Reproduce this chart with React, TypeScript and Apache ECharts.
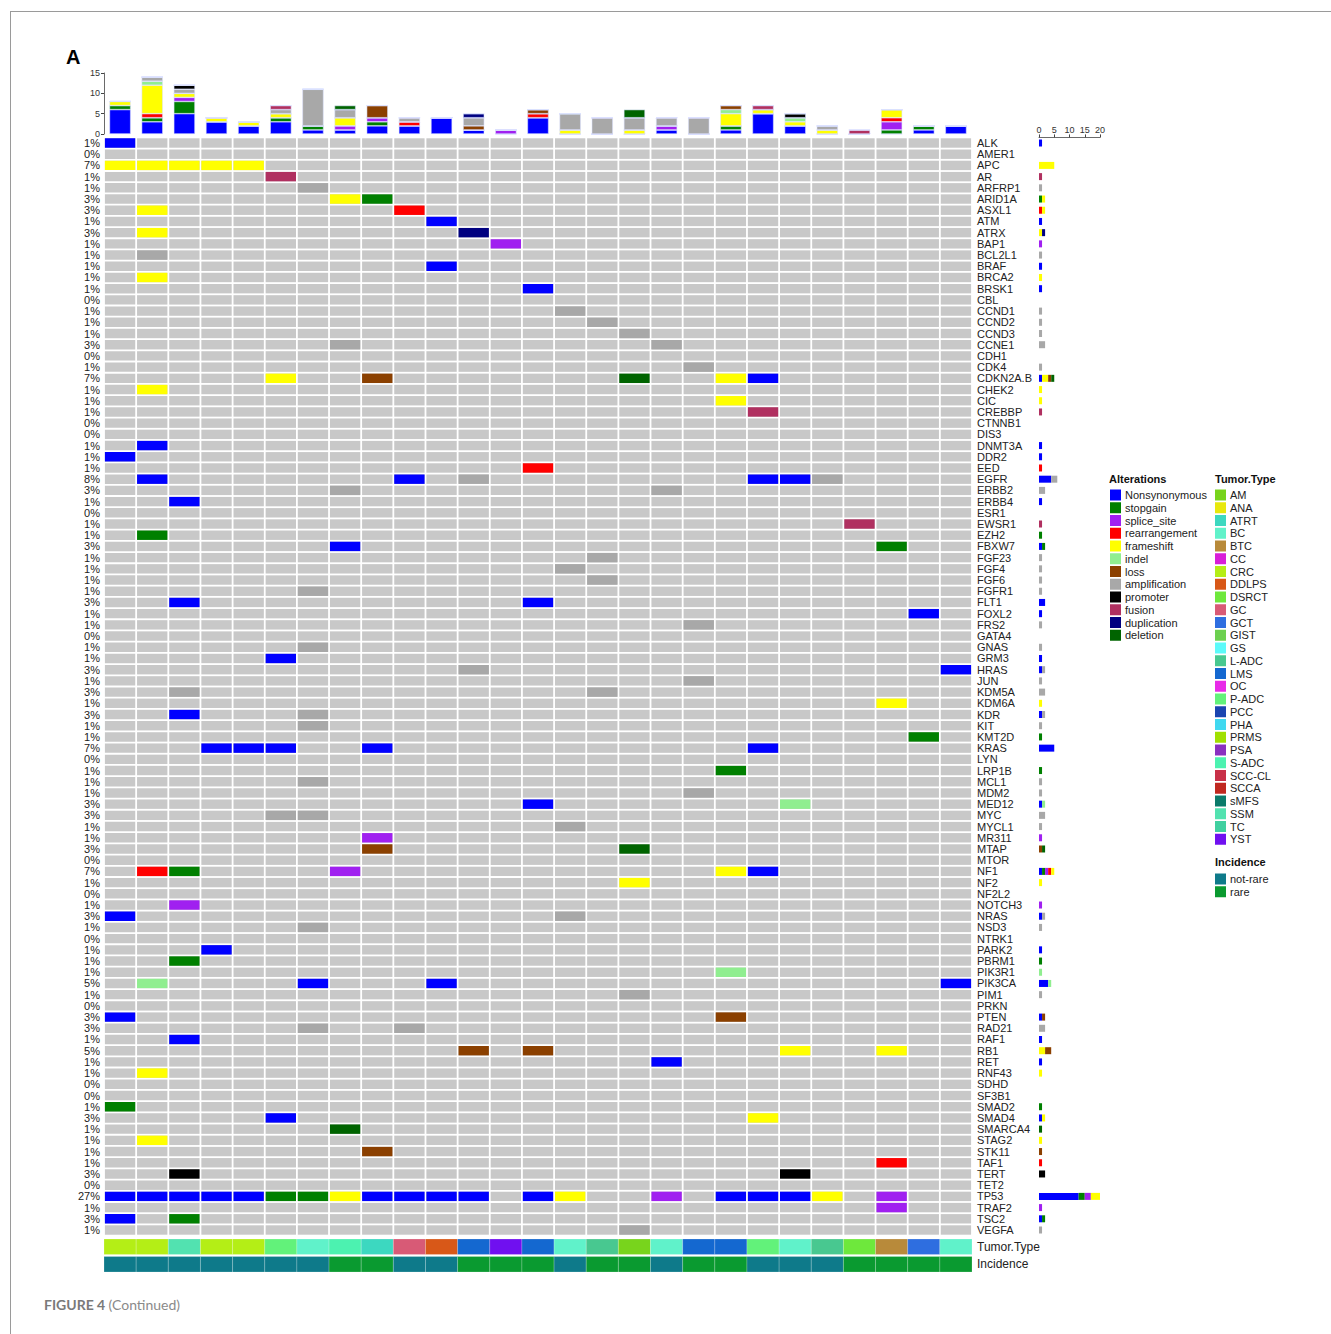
import React, { useEffect, useRef } from "react";
import * as echarts from "echarts";

const genes = ["ALK","AMER1","APC","AR","ARFRP1","ARID1A","ASXL1","ATM","ATRX","BAP1","BCL2L1","BRAF","BRCA2","BRSK1","CBL","CCND1","CCND2","CCND3","CCNE1","CDH1","CDK4","CDKN2A.B","CHEK2","CIC","CREBBP","CTNNB1","DIS3","DNMT3A","DDR2","EED","EGFR","ERBB2","ERBB4","ESR1","EWSR1","EZH2","FBXW7","FGF23","FGF4","FGF6","FGFR1","FLT1","FOXL2","FRS2","GATA4","GNAS","GRM3","HRAS","JUN","KDM5A","KDM6A","KDR","KIT","KMT2D","KRAS","LYN","LRP1B","MCL1","MDM2","MED12","MYC","MYCL1","MR311","MTAP","MTOR","NF1","NF2","NF2L2","NOTCH3","NRAS","NSD3","NTRK1","PARK2","PBRM1","PIK3R1","PIK3CA","PIM1","PRKN","PTEN","RAD21","RAF1","RB1","RET","RNF43","SDHD","SF3B1","SMAD2","SMAD4","SMARCA4","STAG2","STK11","TAF1","TERT","TET2","TP53","TRAF2","TSC2","VEGFA"];

const pct = [1,0,7,1,1,3,3,1,3,1,1,1,1,1,0,1,1,1,3,0,1,7,1,1,1,0,0,1,1,1,8,3,1,0,1,1,3,1,1,1,1,3,1,1,0,1,1,3,1,3,1,3,1,1,7,0,1,1,1,3,3,1,1,3,0,7,1,0,1,3,1,0,1,1,1,5,1,0,3,3,1,5,1,1,0,0,1,3,1,1,1,1,3,0,27,1,3,1];

const samples = Array.from({ length: 27 }, (_, i) => "S" + (i + 1));

const altCodes = ["N","S","SP","R","F","I","L","A","P","FU","DU","D"];
const altNames = ["Nonsynonymous","stopgain","splice_site","rearrangement","frameshift","indel","loss","amplification","promoter","fusion","duplication","deletion"];
const altColors = ["#0000FF","#008000","#A020F0","#FF0000","#FFFF00","#90EE90","#8B4000","#A8A8A8","#000000","#B03060","#000080","#006400"];

// [gene, sample column (1-based), alteration code]
const alterations: [string, number, string][] = [
  ["ALK",1,"N"],
  ["APC",1,"F"],["APC",2,"F"],["APC",3,"F"],["APC",4,"F"],["APC",5,"F"],
  ["AR",6,"FU"],
  ["ARFRP1",7,"A"],
  ["ARID1A",8,"F"],["ARID1A",9,"S"],
  ["ASXL1",2,"F"],["ASXL1",10,"R"],
  ["ATM",11,"N"],
  ["ATRX",2,"F"],["ATRX",12,"DU"],
  ["BAP1",13,"SP"],
  ["BCL2L1",2,"A"],
  ["BRAF",11,"N"],
  ["BRCA2",2,"F"],
  ["BRSK1",14,"N"],
  ["CCND1",15,"A"],
  ["CCND2",16,"A"],
  ["CCND3",17,"A"],
  ["CCNE1",8,"A"],["CCNE1",18,"A"],
  ["CDK4",19,"A"],
  ["CDKN2A.B",6,"F"],["CDKN2A.B",9,"L"],["CDKN2A.B",17,"D"],["CDKN2A.B",20,"F"],["CDKN2A.B",21,"N"],
  ["CHEK2",2,"F"],
  ["CIC",20,"F"],
  ["CREBBP",21,"FU"],
  ["DNMT3A",2,"N"],
  ["DDR2",1,"N"],
  ["EED",14,"R"],
  ["EGFR",2,"N"],["EGFR",10,"N"],["EGFR",12,"A"],["EGFR",21,"N"],["EGFR",22,"N"],["EGFR",23,"A"],
  ["ERBB2",8,"A"],["ERBB2",18,"A"],
  ["ERBB4",3,"N"],
  ["EWSR1",24,"FU"],
  ["EZH2",2,"S"],
  ["FBXW7",8,"N"],["FBXW7",25,"S"],
  ["FGF23",16,"A"],
  ["FGF4",15,"A"],
  ["FGF6",16,"A"],
  ["FGFR1",7,"A"],
  ["FLT1",3,"N"],["FLT1",14,"N"],
  ["FOXL2",26,"N"],
  ["FRS2",19,"A"],
  ["GNAS",7,"A"],
  ["GRM3",6,"N"],
  ["HRAS",12,"A"],["HRAS",27,"N"],
  ["JUN",19,"A"],
  ["KDM5A",3,"A"],["KDM5A",16,"A"],
  ["KDM6A",25,"F"],
  ["KDR",3,"N"],["KDR",7,"A"],
  ["KIT",7,"A"],
  ["KMT2D",26,"S"],
  ["KRAS",4,"N"],["KRAS",5,"N"],["KRAS",6,"N"],["KRAS",9,"N"],["KRAS",21,"N"],
  ["LRP1B",20,"S"],
  ["MCL1",7,"A"],
  ["MDM2",19,"A"],
  ["MED12",14,"N"],["MED12",22,"I"],
  ["MYC",6,"A"],["MYC",7,"A"],
  ["MYCL1",15,"A"],
  ["MR311",9,"SP"],
  ["MTAP",9,"L"],["MTAP",17,"D"],
  ["NF1",2,"R"],["NF1",3,"S"],["NF1",8,"SP"],["NF1",20,"F"],["NF1",21,"N"],
  ["NF2",17,"F"],
  ["NOTCH3",3,"SP"],
  ["NRAS",1,"N"],["NRAS",15,"A"],
  ["NSD3",7,"A"],
  ["PARK2",4,"N"],
  ["PBRM1",3,"S"],
  ["PIK3R1",20,"I"],
  ["PIK3CA",2,"I"],["PIK3CA",7,"N"],["PIK3CA",11,"N"],["PIK3CA",27,"N"],
  ["PIM1",17,"A"],
  ["PTEN",1,"N"],["PTEN",20,"L"],
  ["RAD21",7,"A"],["RAD21",10,"A"],
  ["RAF1",3,"N"],
  ["RB1",12,"L"],["RB1",14,"L"],["RB1",22,"F"],["RB1",25,"F"],
  ["RET",18,"N"],
  ["RNF43",2,"F"],
  ["SMAD2",1,"S"],
  ["SMAD4",6,"N"],["SMAD4",21,"F"],
  ["SMARCA4",8,"D"],
  ["STAG2",2,"F"],
  ["STK11",9,"L"],
  ["TAF1",25,"R"],
  ["TERT",3,"P"],["TERT",22,"P"],
  ["TP53",1,"N"],["TP53",2,"N"],["TP53",3,"N"],["TP53",4,"N"],["TP53",5,"N"],["TP53",6,"S"],["TP53",7,"S"],["TP53",8,"F"],
  ["TP53",9,"N"],["TP53",10,"N"],["TP53",11,"N"],["TP53",12,"N"],["TP53",14,"N"],["TP53",15,"F"],["TP53",18,"SP"],
  ["TP53",20,"N"],["TP53",21,"N"],["TP53",22,"N"],["TP53",23,"F"],["TP53",25,"SP"],
  ["TRAF2",25,"SP"],
  ["TSC2",1,"N"],["TSC2",3,"S"],
  ["VEGFA",17,"A"],
];

const tumorTypes = ["AM","ANA","ATRT","BC","BTC","CC","CRC","DDLPS","DSRCT","GC","GCT","GIST","GS","L-ADC","LMS","OC","P-ADC","PCC","PHA","PRMS","PSA","S-ADC","SCC-CL","SCCA","sMFS","SSM","TC","YST"];
const tumorColors = ["#78D41C","#E8E80C","#3CD8C0","#60F2CA","#B88A3A","#D81ED8","#B4EE16","#D85818","#6EE83C","#D85A76","#2E6EE0","#6CD050","#5CFAFA","#48C890","#1468D0","#E82AE8","#62F27A","#1A44B0","#40D8F0","#A0E000","#8A30C0","#4CF2B0","#C83048","#C02820","#0A7A6A","#52E2B0","#40D0A0","#7010F0"];
const sampleTumor = ["CRC","CRC","SSM","CRC","CRC","P-ADC","BC","S-ADC","ATRT","GC","DDLPS","LMS","YST","LMS","BC","L-ADC","AM","BC","LMS","LMS","P-ADC","BC","L-ADC","DSRCT","BTC","GCT","BC"];

const incidenceNames = ["not-rare","rare"];
const incidenceColors = ["#0E7A8A","#0A9A30"];
const sampleIncidence = ["not-rare","not-rare","not-rare","not-rare","not-rare","not-rare","not-rare","rare","rare","not-rare","not-rare","rare","rare","rare","not-rare","rare","rare","not-rare","rare","rare","not-rare","not-rare","not-rare","rare","rare","rare","rare"];

const topTicks = [0, 5, 10, 15];
const sideTicks = [0, 5, 10, 15, 20];

const FONT = "'Liberation Sans', Arial, sans-serif";

export default function App() {
  const ref = useRef<HTMLDivElement>(null);
  useEffect(() => {
    document.body.style.margin = "0";
    const chart = echarts.init(ref.current!, null, { renderer: "svg" });

    const cellData = alterations.map(([g, c, t]) => [c - 1, genes.indexOf(g), altCodes.indexOf(t)]);
    const bgData: number[][] = [];
    for (let r = 0; r < genes.length; r++) for (let c = 0; c < samples.length; c++) bgData.push([c, r]);

    const topCounts = altCodes.map(() => samples.map(() => 0));
    const sideCounts = altCodes.map(() => genes.map(() => 0));
    cellData.forEach(([c, r, t]) => { topCounts[t][c] += 1; sideCounts[t][r] += 1; });

    const annData: number[][] = [];
    samples.forEach((_, i) => {
      annData.push([i, 0, tumorTypes.indexOf(sampleTumor[i])]);
      annData.push([i, 1, incidenceNames.indexOf(sampleIncidence[i])]);
    });

    const cellRender = (colorOf: (v: number) => string, bg: boolean) => (params: any, api: any) => {
      const p = api.coord([api.value(0), api.value(1)]);
      const s = api.size([1, 1]);
      const gx = 0.9, gy = 0.9;
      return {
        type: "rect",
        shape: { x: p[0] - s[0] / 2 + gx, y: p[1] - s[1] / 2 + gy, width: s[0] - 2 * gx, height: s[1] - 2 * gy },
        style: { fill: bg ? "#C8C8C8" : colorOf(api.value(2)) },
      };
    };

    const annRender = (params: any, api: any) => {
      const row = api.value(1);
      const p = api.coord([api.value(0), row]);
      const s = api.size([1, 1]);
      const fill = row === 0 ? tumorColors[api.value(2)] : incidenceColors[api.value(2)];
      return {
        type: "rect",
        shape: { x: p[0] - s[0] / 2, y: p[1] - s[1] / 2 + 1, width: s[0], height: s[1] - 2 },
        style: { fill, stroke: "rgba(255,255,255,0.25)", lineWidth: 0.8 },
      };
    };

    const legendEls: any[] = [];
    const rowH = 12.75;
    legendEls.push({ type: "text", x: 1109, y: 479, style: { text: "Alterations", font: `bold 11px ${FONT}`, fill: "#111", verticalAlign: "middle" } });
    altNames.forEach((n, i) => {
      const y = 495 + i * rowH;
      legendEls.push({ type: "rect", shape: { x: 1110, y: y - 5.5, width: 11, height: 11 }, style: { fill: altColors[i] } });
      legendEls.push({ type: "text", x: 1125, y, style: { text: n, font: `11px ${FONT}`, fill: "#222", verticalAlign: "middle" } });
    });
    legendEls.push({ type: "text", x: 1215, y: 479, style: { text: "Tumor.Type", font: `bold 11px ${FONT}`, fill: "#111", verticalAlign: "middle" } });
    tumorTypes.forEach((n, i) => {
      const y = 495 + i * rowH;
      legendEls.push({ type: "rect", shape: { x: 1215, y: y - 5.5, width: 11, height: 11 }, style: { fill: tumorColors[i] } });
      legendEls.push({ type: "text", x: 1230, y, style: { text: n, font: `11px ${FONT}`, fill: "#222", verticalAlign: "middle" } });
    });
    legendEls.push({ type: "text", x: 1215, y: 862, style: { text: "Incidence", font: `bold 11px ${FONT}`, fill: "#111", verticalAlign: "middle" } });
    incidenceNames.forEach((n, i) => {
      const y = 879 + i * rowH;
      legendEls.push({ type: "rect", shape: { x: 1215, y: y - 5.5, width: 11, height: 11 }, style: { fill: incidenceColors[i] } });
      legendEls.push({ type: "text", x: 1230, y, style: { text: n, font: `11px ${FONT}`, fill: "#222", verticalAlign: "middle" } });
    });

    const option: any = {
      animation: false,
      backgroundColor: "#ffffff",
      textStyle: { fontFamily: FONT },
      grid: [
        { left: 104, top: 73, width: 868, height: 61 },
        { left: 104, top: 137.4, width: 868, height: 1098.2 },
        { left: 1039, top: 137.4, width: 61, height: 1098.2 },
        { left: 104, top: 1238, width: 868, height: 35 },
      ],
      xAxis: [
        { type: "category", gridIndex: 0, data: samples, show: false },
        { type: "category", gridIndex: 1, data: samples, show: false },
        {
          type: "value", gridIndex: 2, position: "top", min: 0, max: 20, interval: 5,
          axisLine: { show: true, lineStyle: { color: "#444", width: 0.8 } },
          axisTick: { show: true, length: 3, lineStyle: { color: "#444" } },
          axisLabel: { fontSize: 9, color: "#333", margin: 3, formatter: (v: number) => (sideTicks.includes(v) ? String(v) : "") },
          splitLine: { show: false },
        },
        { type: "category", gridIndex: 3, data: samples, show: false },
      ],
      yAxis: [
        {
          type: "value", gridIndex: 0, min: 0, max: 15, interval: 5,
          axisLine: { show: true, lineStyle: { color: "#444", width: 0.8 } },
          axisTick: { show: true, length: 3, lineStyle: { color: "#444" } },
          axisLabel: { fontSize: 9, color: "#333", margin: 4, formatter: (v: number) => (topTicks.includes(v) ? String(v) : "") },
          splitLine: { show: false },
        },
        {
          type: "category", gridIndex: 1, data: genes, inverse: true, position: "left",
          axisLine: { show: false }, axisTick: { show: false },
          axisLabel: { interval: 0, fontSize: 11, color: "#222", margin: 4, formatter: (_v: string, i: number) => pct[i] + "%" },
        },
        {
          type: "category", gridIndex: 1, data: genes, inverse: true, position: "right",
          axisLine: { show: false }, axisTick: { show: false },
          axisLabel: { interval: 0, fontSize: 11, color: "#222", margin: 5 },
        },
        { type: "category", gridIndex: 2, data: genes, inverse: true, show: false },
        {
          type: "category", gridIndex: 3, data: ["Tumor.Type", "Incidence"], inverse: true, position: "right",
          axisLine: { show: false }, axisTick: { show: false },
          axisLabel: { interval: 0, fontSize: 12, color: "#222", margin: 5 },
        },
      ],
      series: [
        ...altNames.map((n, t) => ({
          type: "bar", name: n, xAxisIndex: 0, yAxisIndex: 0, stack: "top", barWidth: "66%",
          itemStyle: { color: altColors[t], borderColor: "rgba(220,225,255,0.9)", borderWidth: 0.6 },
          data: topCounts[t],
        })),
        {
          type: "custom", xAxisIndex: 1, yAxisIndex: 1, data: bgData, z: 1,
          renderItem: cellRender(() => "#C8C8C8", true),
        },
        {
          type: "custom", xAxisIndex: 1, yAxisIndex: 1, data: cellData, z: 2,
          renderItem: cellRender((v) => altColors[v], false),
        },
        ...altNames.map((n, t) => ({
          type: "bar", name: n + "_side", xAxisIndex: 2, yAxisIndex: 3, stack: "side", barWidth: 7,
          itemStyle: { color: altColors[t] },
          data: sideCounts[t],
        })),
        {
          type: "custom", xAxisIndex: 3, yAxisIndex: 4, data: annData,
          renderItem: annRender,
        },
      ],
      graphic: [
        { type: "line", shape: { x1: 10, y1: 11.5, x2: 1331, y2: 11.5 }, style: { stroke: "#9A9A9A", lineWidth: 1 } },
        { type: "line", shape: { x1: 10.5, y1: 11, x2: 10.5, y2: 1334 }, style: { stroke: "#9A9A9A", lineWidth: 1 } },
        { type: "text", x: 66, y: 57, style: { text: "A", font: `bold 20px ${FONT}`, fill: "#000", verticalAlign: "middle" } },
        {
          type: "text", x: 44, y: 1304,
          style: {
            text: "{b|FIGURE 4} {r|(Continued)}",
            verticalAlign: "middle",
            rich: {
              b: { fontFamily: "Lato, 'Open Sans', sans-serif", fontWeight: "bold", fontSize: 14, fill: "#7A7A7A" },
              r: { fontFamily: "Lato, 'Open Sans', sans-serif", fontSize: 14, fill: "#8A8A8A" },
            },
          },
        },
        ...legendEls,
      ],
    };
    chart.setOption(option);
    return () => chart.dispose();
  }, []);
  return <div ref={ref} style={{ width: 1331, height: 1334 }} />;
}
